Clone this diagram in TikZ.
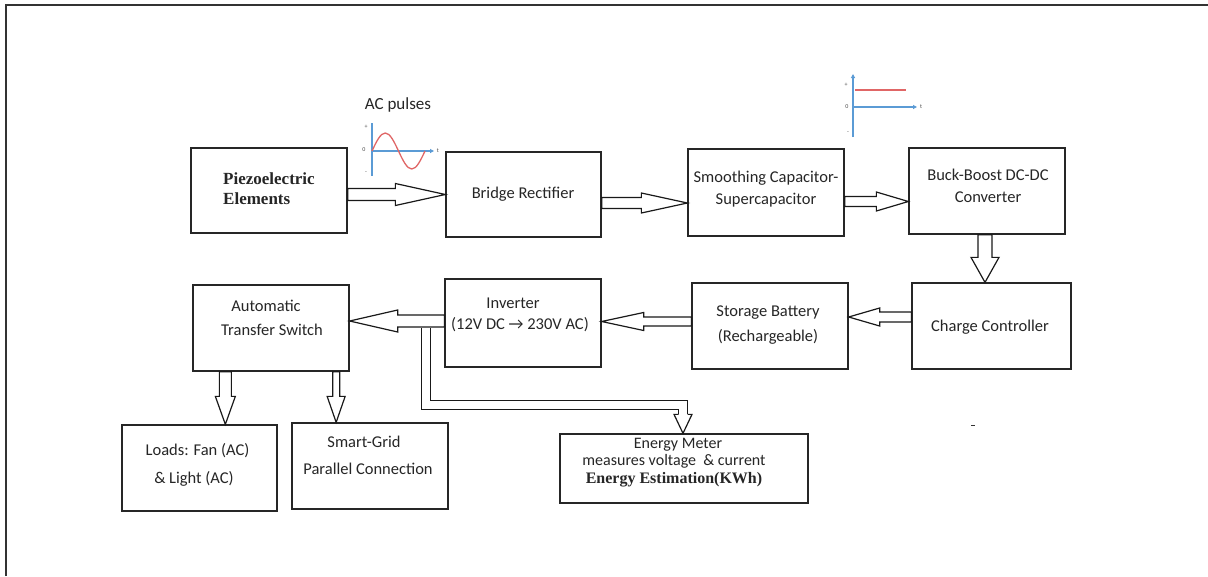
\documentclass[tikz,border=0pt]{standalone}
\usepackage{fontspec}
\setmainfont{Carlito}
\newfontfamily\serifbf{Liberation Serif}
\usetikzlibrary{calc,arrows.meta}

\definecolor{axisblue}{HTML}{5B9BD5}
\definecolor{curvered}{HTML}{E06666}
\definecolor{txt}{HTML}{262626}

\tikzset{
  box/.style={draw=black!85, line width=1.3pt, inner sep=0pt},
  lbl/.style={text=txt, align=center, inner sep=0pt},
  barrow/.style={draw=black!90, line width=1.2pt, fill=white, line join=miter},
  dline/.style={draw=black!90, line width=1.2pt, double=white, double distance=7.8pt},
  axis/.style={draw=axisblue, line width=1.8pt},
  tiny/.style={text=black!70, inner sep=0pt, font=\fontsize{6}{7}\selectfont},
}

% hollow block arrow: start, end, shaft half width, head half width, head length
\newcommand\blockarrow[5]{%
  \coordinate (ba-b) at ($(#2)!#5pt!(#1)$);
  \draw[barrow] ($(#1)!#3pt!90:(#2)$) -- ($(ba-b)!#3pt!-90:(#1)$)
    -- ($(ba-b)!#4pt!-90:(#1)$) -- (#2) -- ($(ba-b)!#4pt!90:(#1)$)
    -- ($(ba-b)!#3pt!90:(#1)$) -- ($(#1)!#3pt!-90:(#2)$) -- cycle;
}

\begin{document}
\begin{tikzpicture}[x=1pt, y=-1pt]
\useasboundingbox (0,0) rectangle (1208,576);
\fill[white] (0,0) rectangle (1208,576);

% frame
\draw[line width=2pt, black!80] (6,576) -- (6,5) -- (1208,5);

% blocks
\node[box, minimum width=156pt, minimum height=85pt] (pz)  at (269,190.5) {};
\node[box, minimum width=155pt, minimum height=85pt] (br)  at (523.5,194.5) {};
\node[box, minimum width=156pt, minimum height=87pt] (sc)  at (766,192.5) {};
\node[box, minimum width=156pt, minimum height=86pt] (bb)  at (987,191) {};
\node[box, minimum width=159pt, minimum height=86pt] (cc)  at (991.5,326) {};
\node[box, minimum width=156pt, minimum height=86pt] (sb)  at (770,326) {};
\node[box, minimum width=156pt, minimum height=88pt] (inv) at (523,323) {};
\node[box, minimum width=156pt, minimum height=86pt] (ats) at (271,328) {};
\node[box, minimum width=155pt, minimum height=86pt] (ld)  at (199.5,468) {};
\node[box, minimum width=156pt, minimum height=86pt] (sg)  at (370,466) {};
\node[box, minimum width=248pt, minimum height=69pt] (em)  at (684,468.5) {};

% block texts
\node[lbl, align=left, anchor=west, font=\serifbf\bfseries\fontsize{17}{20}\selectfont]
  (pz-t) at (223,189) {Piezoelectric\\Elements};
\node[lbl, font=\fontsize{16.5}{22}\selectfont] (br-t)  at (523,194) {Bridge Rectifier};
\node[lbl, font=\fontsize{16.5}{22}\selectfont] (sc-t)  at (766,189) {Smoothing Capacitor-\\Supercapacitor};
\node[lbl, font=\fontsize{16.5}{22}\selectfont] (bb-t)  at (988,186) {Buck-Boost DC-DC\\Converter};
\node[lbl, font=\fontsize{16.5}{22}\selectfont] (cc-t)  at (990,327) {Charge Controller};
\node[lbl, font=\fontsize{16.5}{25}\selectfont] (sb-t)  at (768,325.5) {Storage Battery\\(Rechargeable)};
\node[lbl, font=\fontsize{16.5}{21}\selectfont] (inv-t) at (520,314.5)
  {Inverter\hspace*{14pt}\\(12V DC \textrightarrow\ 230V AC)};
\node[lbl, font=\fontsize{16.5}{24}\selectfont] (ats-t) at (272,318)
  {Automatic\hspace*{12pt}\\Transfer Switch};
\node[lbl, font=\fontsize{16.5}{28}\selectfont] (ld-t)  at (197.5,465)
  {Loads: Fan (AC)\\\& Light (AC)\hspace*{7pt}};
\node[lbl, font=\fontsize{16.5}{27}\selectfont] (sg-t)  at (368,455.5)
  {Smart-Grid\hspace*{8pt}\\Parallel Connection};
\node[lbl, font=\fontsize{16}{17.5}\selectfont] (em-t) at (674,462.5)
  {\hspace*{8pt}Energy Meter\\measures voltage\ \ \& current\hspace*{14pt}\\{\serifbf\bfseries Energy Estimation(KWh)}};

% connector end points
\coordinate (a1s) at (pz.east |- br.west);
\coordinate (a2s) at ($(br.east)+(0,8.5)$);   \coordinate (a2e) at (sc.west |- a2s);
\coordinate (a3s) at ($(sc.east)+(0,9)$);     \coordinate (a3e) at (bb.west |- a3s);
\coordinate (a4s) at ($(bb.south)+(-2,0)$);   \coordinate (a4e) at (cc.north -| a4s);
\coordinate (a5s) at ($(cc.west)+(0,-9)$);    \coordinate (a5e) at (sb.east |- a5s);
\coordinate (a6s) at ($(sb.west)+(0,-4.5)$);  \coordinate (a6e) at (inv.east |- a6s);
\coordinate (a7s) at ($(inv.west)+(0,-2)$);   \coordinate (a7e) at (ats.east |- a7s);
\coordinate (a8s) at ($(ats.south west)+(33,0)$);   \coordinate (a8e) at (ld.north -| a8s);
\coordinate (a9s) at ($(ats.south east)+(-13.5,0)$); \coordinate (a9e) at (sg.north -| a9s);

% block arrows
\blockarrow{a1s}{br.west}{6}{11}{50}
\blockarrow{a2s}{a2e}{5.5}{10}{46}
\blockarrow{a3s}{a3e}{5}{9.5}{32}
\blockarrow{a4s}{a4e}{7}{14}{25}
\blockarrow{a5s}{a5e}{5}{9}{31}
\blockarrow{a6s}{a6e}{4.5}{9}{42}
\blockarrow{a7s}{a7e}{6}{11}{48}
\blockarrow{a8s}{a8e}{6}{10}{28}
\blockarrow{a9s}{a9e}{3.5}{9}{26}

% branch from the inverter output to the energy meter
\coordinate (tap) at ($(a7s)+(-18.5,7)$);
\coordinate (emh) at ($(em.north)+(-1,-19)$);
\coordinate (elbow) at ($(emh)+(0,-9)$);
\draw[dline] (tap) -- (tap |- elbow) -- (elbow) -- (emh);
\draw[draw=black!90, line width=1.2pt, line join=miter]
  ($(emh)+(-4.5,0)$) -- ($(emh)+(-9,0)$) -- (emh |- em.north)
  -- ($(emh)+(9,0)$) -- ($(emh)+(4.5,0)$);

% AC pulse sketch
\node[text=txt, inner sep=0pt, font=\fontsize{17}{20}\selectfont] (acp) at (398,105) {AC pulses};
\draw[axis] (372,123) -- (372,176);
\draw[axis, -{Triangle[length=4pt, width=4pt]}] (372,151) -- (434,151);
\draw[curvered, line width=1.3pt] (372,151) sin (385.25,133) cos (398.5,151)
  sin (411.75,169) cos (425,151);
\node[tiny] (ac-p) at (366,127) {+};
\node[tiny] (ac-0) at (364,150) {0};
\node[tiny] (ac-m) at (366,173) {-};
\node[tiny] (ac-t) at (438,151) {t};

% DC level sketch
\draw[axis, -{Triangle[length=4pt, width=4pt]}] (853,137) -- (853,74);
\draw[axis, -{Triangle[length=4pt, width=4pt]}] (853,107) -- (917,107);
\draw[curvered, line width=1.1pt] (855,90) -- (906,90);
\node[tiny] (dc-p) at (846,85) {+};
\node[tiny] (dc-0) at (847,107) {0};
\node[tiny] (dc-m) at (848,133) {-};
\node[tiny] (dc-t) at (921,107) {t};

% small mark
\draw[black!80, line width=1pt] (971,425) -- (975,425);
\end{tikzpicture}
\end{document}
